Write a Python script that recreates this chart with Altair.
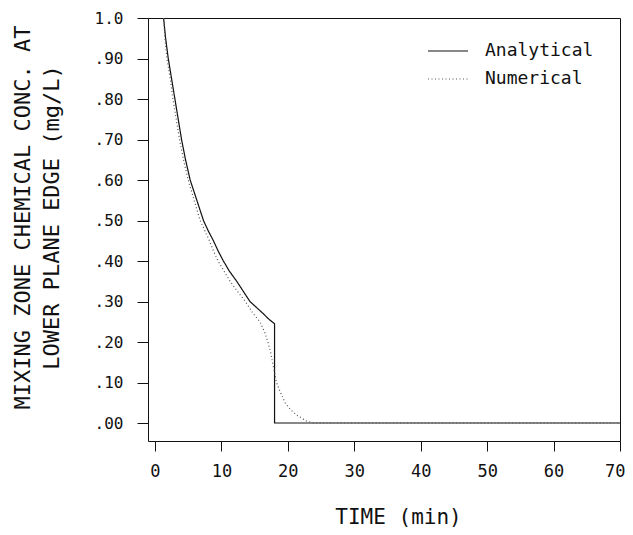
import altair as alt
import pandas as pd

# Analytical curve (time in min, concentration in mg/L)
ana_t = [1.3, 1.6, 2.0, 2.5, 3.0, 3.5, 4.0, 4.6, 5.3, 5.8, 6.3, 6.8, 7.3, 8.0, 8.8, 9.5, 10.3, 11.2, 12.3, 13.3, 14.3, 15.3, 16.3, 17.1, 18.0, 18.0, 30.0, 40.0, 50.0, 60.0, 70.0]
ana_c = [1.00, 0.95, 0.90, 0.85, 0.80, 0.75, 0.70, 0.65, 0.60, 0.575, 0.55, 0.525, 0.50, 0.475, 0.45, 0.425, 0.40, 0.375, 0.35, 0.325, 0.30, 0.285, 0.27, 0.257, 0.245, 0.0, 0.0, 0.0, 0.0, 0.0, 0.0]

# Numerical curve
num_t = [1.3, 1.5, 1.8, 2.3, 2.7, 3.2, 3.7, 4.3, 5.0, 5.9, 6.8, 7.5, 8.2, 8.8, 9.5, 10.4, 11.3, 12.4, 13.6, 14.8, 15.8, 16.5, 17.0, 17.4, 17.7, 18.0, 18.3, 18.9, 19.6, 20.4, 21.3, 22.8, 24.0, 30.0, 40.0, 50.0, 60.0, 70.0]
num_c = [1.00, 0.95, 0.90, 0.85, 0.80, 0.75, 0.70, 0.65, 0.60, 0.55, 0.50, 0.475, 0.45, 0.425, 0.40, 0.375, 0.35, 0.325, 0.30, 0.27, 0.25, 0.225, 0.20, 0.175, 0.15, 0.125, 0.10, 0.075, 0.05, 0.033, 0.02, 0.005, 0.0, 0.0, 0.0, 0.0, 0.0, 0.0]

series_names = ["Analytical", "Numerical"]
x_ticks = [0, 10, 20, 30, 40, 50, 60, 70]
y_ticks = [0.0, 0.1, 0.2, 0.3, 0.4, 0.5, 0.6, 0.7, 0.8, 0.9, 1.0]

df = pd.concat([
    pd.DataFrame({"t": ana_t, "c": ana_c, "series": series_names[0], "i": range(len(ana_t))}),
    pd.DataFrame({"t": num_t, "c": num_c, "series": series_names[1], "i": range(len(num_t))}),
], ignore_index=True)

FONT = "DejaVu Sans Mono"
INK = "#111111"

legend = alt.Legend(
    title=None, orient="none", legendX=285, legendY=18,
    labelFont=FONT, labelFontSize=18, labelColor=INK,
    symbolType="M-1.43,0L1.43,0", symbolSize=784, symbolStrokeWidth=1.1,
    labelOffset=22, rowPadding=4, padding=0,
)

chart = alt.Chart(df).mark_line(strokeWidth=1.2, clip=True).encode(
    x=alt.X("t:Q",
            scale=alt.Scale(domain=[-1.05, 70], nice=False, zero=False),
            axis=alt.Axis(values=x_ticks, title="TIME (min)", format="d",
                          tickSize=10, labelPadding=12, labelFontSize=17,
                          labelFlush=1, labelFlushOffset=5,
                          titleFontSize=21, titleX=250, titleY=82,
                          titleBaseline="alphabetic", titleAlign="center")),
    y=alt.Y("c:Q",
            scale=alt.Scale(domain=[-0.0444, 1.0], nice=False, zero=False),
            axis=alt.Axis(values=y_ticks,
                          labelExpr="datum.value >= 0.999 ? '1.0' : replace(format(datum.value, '.2f'), '0.', '.')",
                          title=["MIXING ZONE CHEMICAL CONC. AT", "LOWER PLANE EDGE (mg/L)"],
                          tickSize=11, labelPadding=14, labelFontSize=16,
                          labelFlush=False,
                          titleFontSize=22, titleX=-136, titleY=199, titleAngle=270,
                          titleBaseline="top", titleAlign="center", titleLineHeight=29)),
    color=alt.Color("series:N", scale=alt.Scale(domain=series_names, range=[INK, "#555555"]), legend=legend),
    strokeDash=alt.StrokeDash("series:N", scale=alt.Scale(domain=series_names, range=[[1, 0], [1, 2.5]]), legend=legend),
    order="i:Q",
).properties(
    width=472, height=423,
    autosize=alt.AutoSizeParams(type="none"),
    padding={"left": 140, "top": 10, "right": 5, "bottom": 86},
    background="white",
).configure_view(
    stroke=INK, strokeWidth=1,
).configure_axis(
    grid=False, domain=False,
    labelFont=FONT, titleFont=FONT, labelColor=INK, titleColor=INK,
    tickColor=INK, tickWidth=1, titleFontWeight="normal",
)

chart.save("out.html", embed_options={"renderer": "svg", "actions": False})
